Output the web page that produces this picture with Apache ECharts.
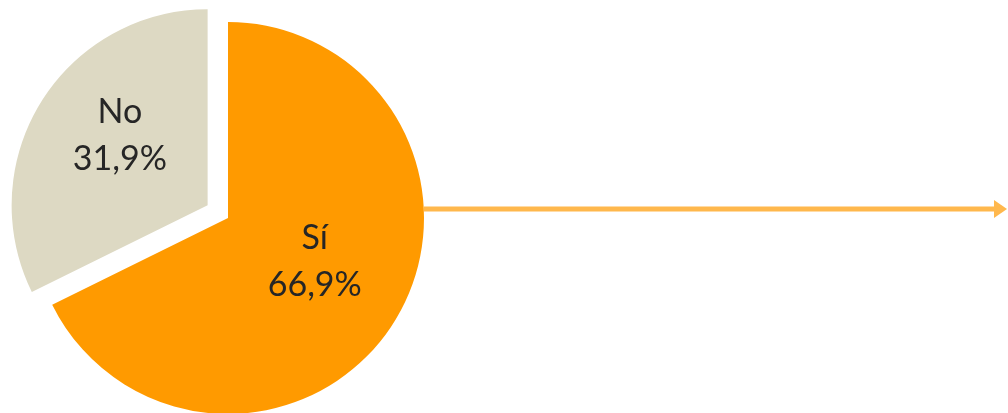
<!DOCTYPE html>
<html>
<head>
<meta charset="utf-8">
<script src="https://cdn.jsdelivr.net/npm/echarts@6/dist/echarts.min.js"></script>
<style>
  html, body { margin: 0; padding: 0; background: #fff; }
  #chart { width: 1008px; height: 413px; }
</style>
</head>
<body>
<div id="chart"></div>
<script>
// datos del gráfico
const categories = ['Sí', 'No'];
const values = [66.9, 31.9];
const colors = ['#FF9A00', '#DDD9C3'];
const valueLabels = ['66,9%', '31,9%'];

// geometría de la tarta (posición y tamaño, no son datos)
const pieCenter = [228, 218];
const pieRadius = 196;
// pequeño ajuste de las etiquetas (dx, dy)
const labelShift = [[1, -10], [-2, -16]];

const chart = echarts.init(document.getElementById('chart'));

const pieData = categories.map((name, i) => ({
    name: name,
    value: values[i],
    selected: name === 'No',
    itemStyle: { color: colors[i] },
    label: { formatter: name + '\n' + valueLabels[i] }
}));

// flecha desde el borde derecho de la tarta
const arrowY = pieCenter[1] - 9;
const arrowX0 = pieCenter[0] + pieRadius;
const arrowX1 = 1006;
const arrowColor = '#FFB84D';

chart.setOption({
    animation: false,
    series: [{
        type: 'pie',
        center: pieCenter,
        radius: pieRadius,
        startAngle: 90,
        clockwise: true,
        selectedMode: 'single',
        selectedOffset: 24,
        data: pieData,
        label: {
            show: true,
            position: 'inner',
            color: '#262626',
            fontFamily: 'Lato, sans-serif',
            fontSize: 34,
            lineHeight: 47
        },
        labelLayout: function (params) {
            const s = labelShift[params.dataIndex];
            return { dx: s[0], dy: s[1] };
        },
        labelLine: { show: false },
        emphasis: { disabled: true }
    }],
    graphic: [
        {
            type: 'line',
            shape: { x1: arrowX0, y1: arrowY, x2: arrowX1 - 10, y2: arrowY },
            style: { stroke: arrowColor, lineWidth: 5 }
        },
        {
            type: 'polygon',
            shape: { points: [[arrowX1 - 12, arrowY - 9], [arrowX1 + 1, arrowY], [arrowX1 - 12, arrowY + 9]] },
            style: { fill: arrowColor }
        }
    ]
});
</script>
</body>
</html>
